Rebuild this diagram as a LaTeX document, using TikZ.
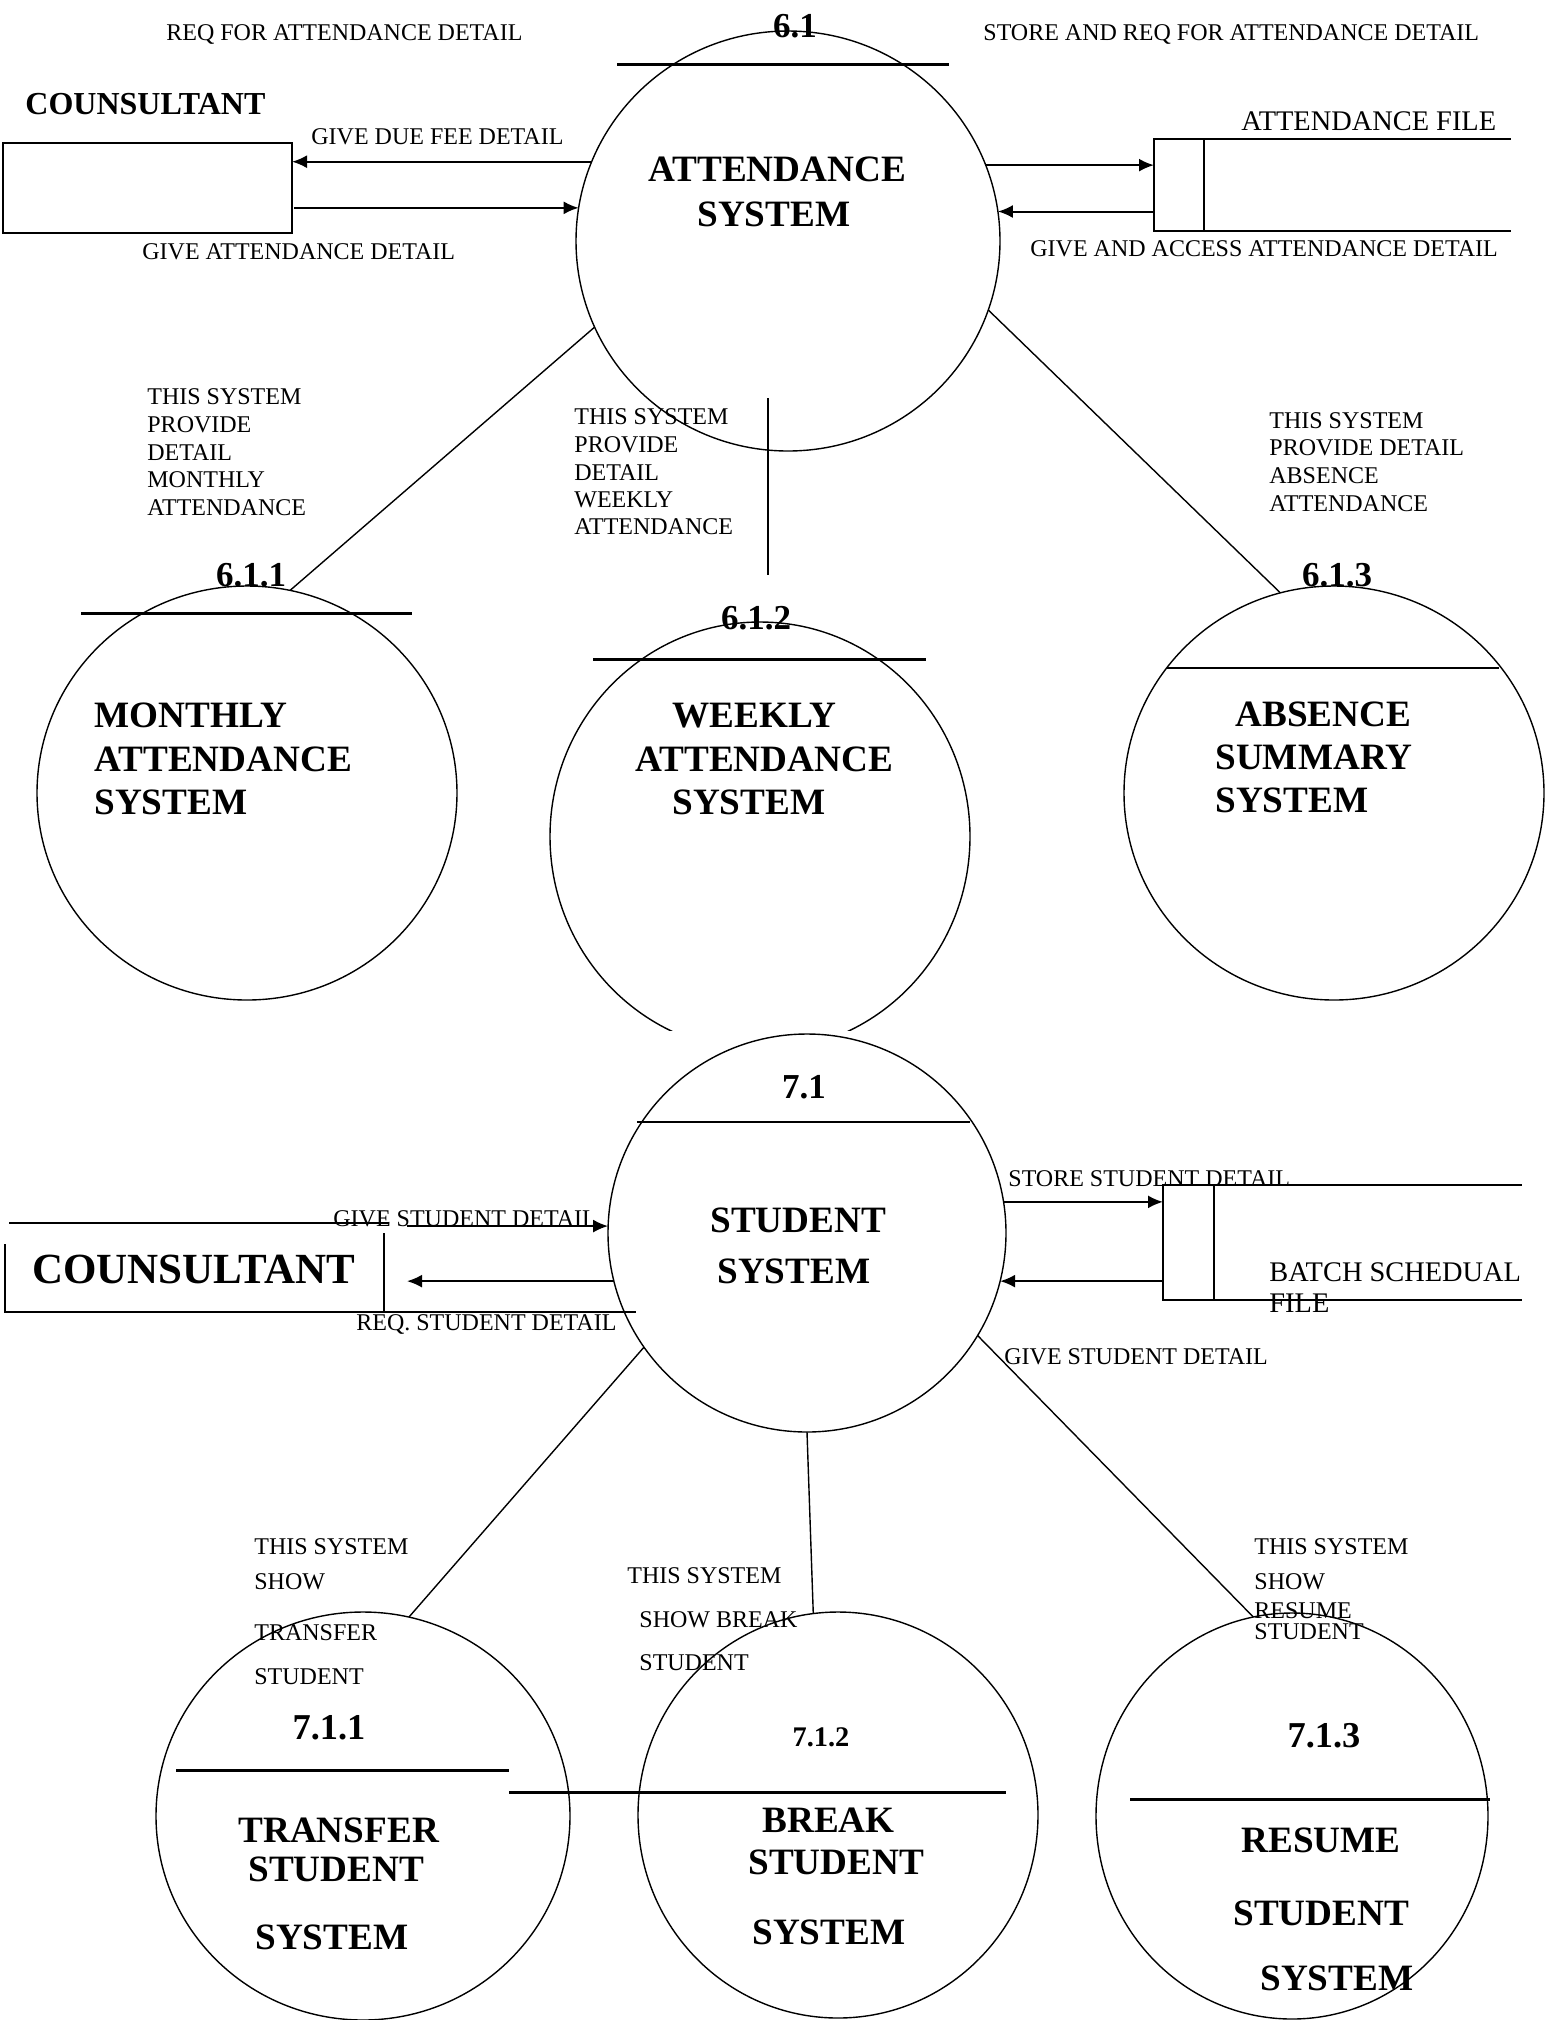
\documentclass[tikz,border=0pt]{standalone}
\usepackage{fontspec}
\setmainfont{Liberation Serif}
\usetikzlibrary{shapes.geometric,arrows.meta}
\begin{document}
\begin{tikzpicture}[x=0.5pt,y=-0.5pt,
  proc/.style={draw, ellipse, line width=0.7pt, inner sep=0pt, outer sep=0pt},
  sm/.style={font=\fontsize{12}{14}\selectfont, inner sep=0pt, anchor=base west, yshift=-4pt},
  md/.style={font=\fontsize{14.2}{17}\selectfont, inner sep=0pt, anchor=base west, yshift=-4.7pt},
  bg/.style={font=\bfseries\fontsize{18.6}{22}\selectfont, inner sep=0pt, anchor=base west, yshift=-6.3pt},
  num/.style={font=\bfseries\fontsize{17.5}{21}\selectfont, inner sep=0pt, anchor=base, yshift=-5.9pt},
  bar/.style={line width=1.5pt},
  link/.style={line width=0.7pt},
  flow/.style={line width=1pt, -{Latex[length=7.5pt,width=6.5pt]}},
  filebox/.style={draw, line width=0.8pt, inner sep=0pt, outer sep=0pt},
]
\useasboundingbox (0,0) rectangle (1552,2020);

% ---------------- Level 6 : attendance ----------------
\node[proc, minimum width=212pt, minimum height=210pt] (p61) at (788,241) {};
\node[num] (n61) at (795,26) {6.1};
\draw[bar] (617,64) -- (949,64);
\node[bg] (t61a) at (648,169) {ATTENDANCE};
\node[bg] (t61b) at (697,214) {SYSTEM};

% external entity
\node[filebox, minimum width=144.5pt, minimum height=45pt] (cbox1) at (147.5,188) {};
\node[font=\bfseries\fontsize{16}{19}\selectfont, inner sep=0pt, anchor=base west, yshift=-5.4pt] (cnt1) at (25,104) {COUNSULTANT};

% data store
\node[filebox, minimum width=25pt, minimum height=46pt] (fs1) at (1179,185) {};
\draw[line width=0.8pt] (fs1.north west) -- ++(357,0);
\draw[line width=0.8pt] (fs1.south west) -- ++(357,0);
\node[md] (lfs1) at (1241,121) {ATTENDANCE FILE};

% flows
\draw[flow] (p61.158.2) -- (p61.158.2 -| cbox1.east);
\draw[flow] (p61.171.8 -| cbox1.east) ++(2,0) -- (p61.171.8);
\draw[flow] (p61.21.8) -- (p61.21.8 -| fs1.west);
\draw[flow] (p61.8.2 -| fs1.west) -- (p61.8.2);

\node[sm] (f1) at (166,32) {REQ FOR ATTENDANCE DETAIL};
\node[sm] (f2) at (983,32) {STORE AND REQ FOR ATTENDANCE DETAIL};
\node[sm] (f3) at (311,136) {GIVE DUE FEE DETAIL};
\node[sm] (f4) at (142,251) {GIVE ATTENDANCE DETAIL};
\node[sm] (f5) at (1030,248) {GIVE AND ACCESS ATTENDANCE DETAIL};

% sub processes
\node[proc, minimum width=210pt, minimum height=207pt] (p611) at (247,793) {};
\begin{scope}
  \clip (500,560) rectangle (1030,1030);
  \node[proc, minimum width=210pt, minimum height=214.5pt] (p612) at (760,836.5) {};
\end{scope}
\node[proc, minimum width=210pt, minimum height=207pt] (p613) at (1334,793) {};

\node[num] (n611) at (251,575) {6.1.1};
\node[num] (n612) at (756,618) {6.1.2};
\node[num] (n613) at (1337,575) {6.1.3};
\draw[bar] (81,613) -- (412,613);
\draw[bar] (593,659) -- (926,659);
\draw[link] (1167,668) -- (1499,668);

\node[bg] (t611a) at (94,715) {MONTHLY};
\node[bg] (t611b) at (94,759) {ATTENDANCE};
\node[bg] (t611c) at (94,802) {SYSTEM};
\node[bg] (t612a) at (672,715) {WEEKLY};
\node[bg] (t612b) at (635,759) {ATTENDANCE};
\node[bg] (t612c) at (672,802) {SYSTEM};
\node[bg] (t613a) at (1235,714) {ABSENCE};
\node[bg] (t613b) at (1215,757) {SUMMARY};
\node[bg] (t613c) at (1215,800) {SYSTEM};

% connectors to sub processes
\draw[link] (p61.204.6) -- (p611.78.6);
\coordinate (w1) at (768,398);
\coordinate (w2) at (768,575);
\draw[line width=1pt] (w1) -- (w2);
\draw[link] (p61.-19.5) -- (p613.105.2);

\foreach \t/\yy [count=\i] in {THIS SYSTEM/396,PROVIDE/424,DETAIL/452,MONTHLY/479,ATTENDANCE/507}
  \node[sm] (lm\i) at (147,\yy) {\t};
\foreach \t/\yy [count=\i] in {THIS SYSTEM/416,PROVIDE/444,DETAIL/472,WEEKLY/499,ATTENDANCE/526}
  \node[sm] (lw\i) at (574,\yy) {\t};
\foreach \t/\yy [count=\i] in {THIS SYSTEM/420,PROVIDE DETAIL/447,ABSENCE/475,ATTENDANCE/503}
  \node[sm] (la\i) at (1269,\yy) {\t};

% ---------------- Level 7 : student ----------------
\node[proc, minimum width=199pt, minimum height=199pt] (p71) at (807,1233) {};
\node[num] (n71) at (804,1087) {7.1};
\draw[line width=1.2pt] (637,1122) -- (970,1122);
\node[bg] (t71a) at (710,1220) {STUDENT};
\node[bg] (t71b) at (717,1271) {SYSTEM};

% external entity
\node[font=\bfseries\fontsize{21.5}{25}\selectfont, inner sep=0pt, anchor=base west, yshift=-7.2pt] (cnt2) at (32,1269) {COUNSULTANT};
\draw[line width=1pt] (9,1223) -- (389,1223);
\draw[line width=1pt] (384,1233) -- (384,1312);
\draw[line width=1pt] (5,1244) -- (5,1312) -- (636,1312);
\coordinate (cb2) at (407,1269);

% data store
\node[filebox, minimum width=25.5pt, minimum height=57.5pt] (fs2) at (1188.5,1242.5) {};
\draw[line width=0.8pt] (fs2.north west) -- ++(359,0);
\draw[line width=0.8pt] (fs2.south west) -- ++(359,0);
\node[md] (lfs2a) at (1269,1272) {BATCH SCHEDUAL};
\node[md] (lfs2b) at (1269,1303) {FILE};

% flows
\draw[flow] (p71.178 -| cb2) -- (p71.178);
\draw[flow] (p71.194.3) -- (p71.194.3 -| cb2);
\draw[flow] (p71.9) -- (p71.9 -| fs2.west);
\draw[flow] (p71.-14 -| fs2.west) -- (p71.-14);

\node[sm] (g1) at (333,1218) {GIVE STUDENT DETAIL};
\node[sm] (g2) at (356,1322) {REQ. STUDENT DETAIL};
\node[sm] (g3) at (1008,1178) {STORE STUDENT DETAIL};
\node[sm] (g4) at (1004,1356) {GIVE STUDENT DETAIL};

% sub processes
\node[proc, minimum width=207pt, minimum height=204pt] (p711) at (363,1816) {};
\node[proc, minimum width=200pt, minimum height=203pt] (p712) at (838,1815) {};
\node[proc, minimum width=196pt, minimum height=203pt] (p713) at (1292,1816) {};

\draw[link] (p71.215.2) -- (p711.77.6);
\draw[link] (p71.-90.3) -- (p712.97.9);
\draw[link] (p71.-31.4) -- (p713.101.4);

\node[num, font=\bfseries\fontsize{18.2}{22}\selectfont] (n711) at (329,1728) {7.1.1};
\node[num, font=\bfseries\fontsize{14.2}{17}\selectfont, yshift=1.1pt] (n712) at (821,1737) {7.1.2};
\node[num, font=\bfseries\fontsize{18.2}{22}\selectfont] (n713) at (1324,1736) {7.1.3};
\draw[bar] (176,1770) -- (509,1770);
\draw[bar] (509,1792) -- (1006,1792);
\draw[bar] (1130,1799) -- (1490,1799);

\node[bg] (t711a) at (238,1830) {TRANSFER};
\node[bg] (t711b) at (248,1869) {STUDENT};
\node[bg] (t711c) at (255,1937) {SYSTEM};
\node[bg] (t712a) at (762,1820) {BREAK};
\node[bg] (t712b) at (748,1862) {STUDENT};
\node[bg] (t712c) at (752,1932) {SYSTEM};
\node[bg] (t713a) at (1241,1840) {RESUME};
\node[bg] (t713b) at (1233,1913) {STUDENT};
\node[bg] (t713c) at (1260,1978) {SYSTEM};

\foreach \t/\yy [count=\i] in {THIS SYSTEM/1546,SHOW/1581,TRANSFER/1632,STUDENT/1676}
  \node[sm] (lt\i) at (254,\yy) {\t};
\node[sm] (lb1) at (627,1575) {THIS SYSTEM};
\node[sm] (lb2) at (639,1619) {SHOW BREAK};
\node[sm] (lb3) at (639,1662) {STUDENT};
\foreach \t/\yy [count=\i] in {THIS SYSTEM/1546,SHOW/1581,RESUME/1610,STUDENT/1631}
  \node[sm] (lr\i) at (1254,\yy) {\t};
\end{tikzpicture}
\end{document}
